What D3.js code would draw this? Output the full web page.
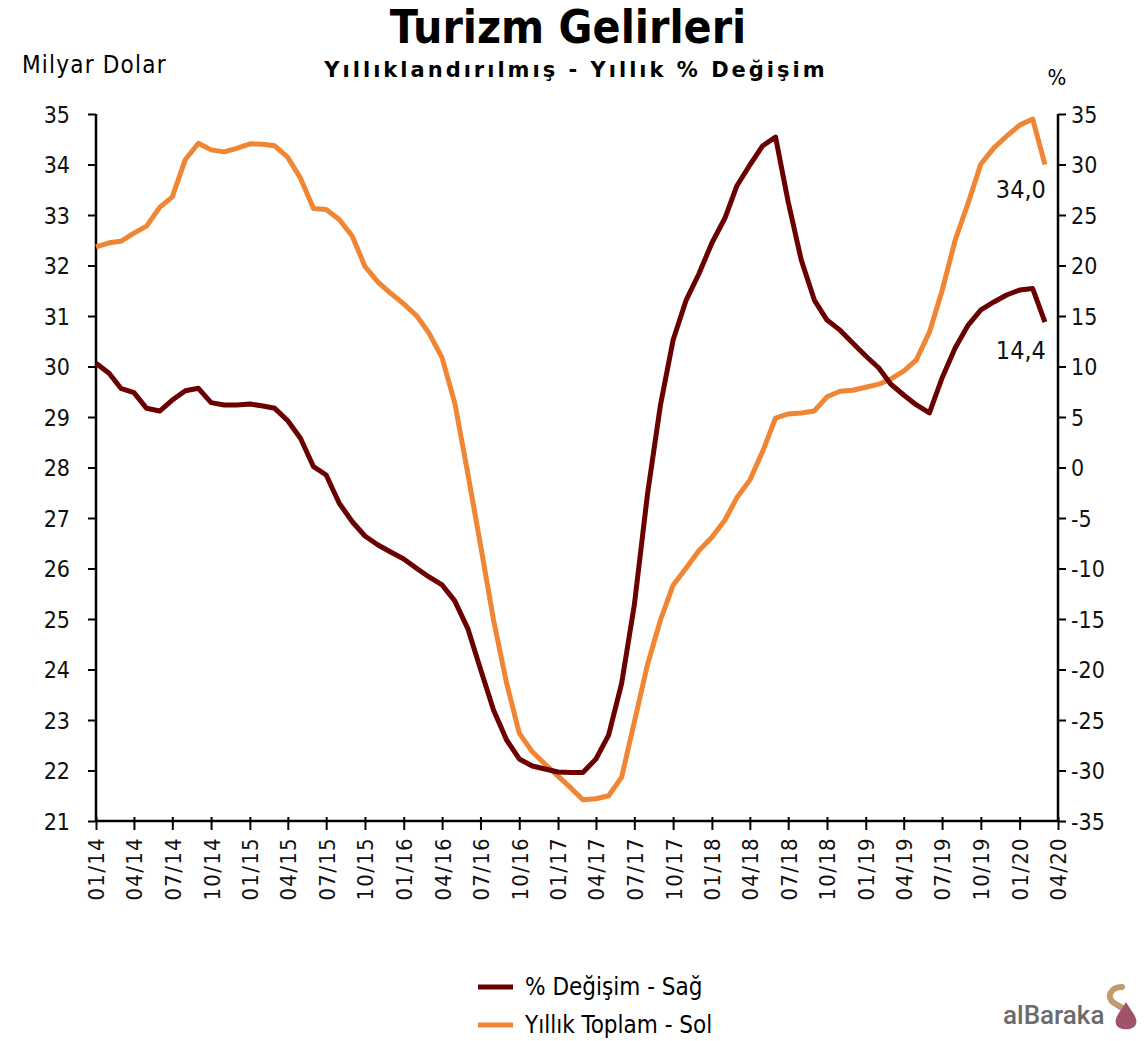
<!DOCTYPE html>
<html><head><meta charset="utf-8">
<script src="https://cdn.jsdelivr.net/npm/d3@7"></script>
<style>
html,body{margin:0;padding:0;background:#fff;}
svg{display:block;font-family:"DejaVu Sans Condensed","DejaVu Sans",sans-serif;}
</style></head>
<body>
<script>
// Categories: monthly, 01/2014 .. 03/2020
const startMonth = new Date(2014, 0, 1);
const endMonth = new Date(2020, 2, 1);
const months = d3.timeMonth.range(startMonth, d3.timeMonth.offset(endMonth, 1));

// Yıllık Toplam (milyar $) - left axis
const yillikToplam = [
 32.37,32.45,32.48,32.64,32.78,33.15,33.36,34.10,34.42,34.29,34.25,34.32,
 34.41,34.40,34.37,34.14,33.73,33.13,33.11,32.91,32.58,31.98,31.67,31.45,
 31.24,31.00,30.66,30.17,29.28,27.88,26.47,24.98,23.73,22.74,22.37,22.13,
 21.89,21.65,21.42,21.44,21.50,21.87,22.96,24.09,24.98,25.67,26.01,26.35,
 26.62,26.96,27.40,27.75,28.31,28.98,29.06,29.08,29.12,29.40,29.51,29.53,
 29.59,29.65,29.75,29.91,30.13,30.68,31.50,32.50,33.24,34.01,34.33,34.56,
 34.78,34.90,34.00
];
// % Değişim - right axis
const yuzdeDegisim = [
 10.32,9.33,7.84,7.41,5.86,5.59,6.68,7.60,7.84,6.42,6.19,6.19,
 6.29,6.09,5.86,4.63,2.89,0.08,-0.74,-3.54,-5.37,-6.78,-7.67,-8.37,
 -9.06,-10.00,-10.84,-11.63,-13.20,-15.95,-19.95,-24.00,-26.98,-28.86,-29.55,-29.85,
 -30.15,-30.20,-30.20,-28.86,-26.49,-21.34,-13.61,-2.72,6.19,12.62,16.58,19.16,
 22.23,24.70,27.87,29.95,31.83,32.72,26.29,20.54,16.58,14.60,13.60,12.33,
 11.04,9.85,8.27,7.18,6.19,5.40,8.86,11.83,14.10,15.60,16.39,17.08,
 17.57,17.72,14.40
];
const leftTicks = [21,22,23,24,25,26,27,28,29,30,31,32,33,34,35];
const rightTicks = [-35,-30,-25,-20,-15,-10,-5,0,5,10,15,20,25,30,35];
const xTickLabels = ["01/14","04/14","07/14","10/14","01/15","04/15","07/15","10/15","01/16","04/16","07/16","10/16","01/17","04/17","07/17","10/17","01/18","04/18","07/18","10/18","01/19","04/19","07/19","10/19","01/20","04/20"];
const lastLabels = ["34,0","14,4"];
const legendLabels = ["% Değişim - Sağ","Yıllık Toplam - Sol"];

const W = 1148, H = 1041;
const L = 96, R = 1058, T = 114, B = 821;
const cRed = "#6a0000", cOrange = "#f08534";
const FONT = '"DejaVu Sans Condensed","DejaVu Sans",sans-serif';

const svg = d3.select("body").append("svg").attr("width", W).attr("height", H);

const x = d3.scaleTime().domain([startMonth, new Date(2020, 3, 1)]).range([L, R]);
const yL = d3.scaleLinear().domain([21, 35]).range([B, T]);
const yR = d3.scaleLinear().domain([-35, 35]).range([B, T]);
const parseTick = d3.timeParse("%m/%y");

// Axes
const gL = svg.append("g").attr("transform", `translate(${L},0)`)
  .call(d3.axisLeft(yL).tickValues(leftTicks).tickSize(8).tickFormat(d => String(d)));
const gR = svg.append("g").attr("transform", `translate(${R},0)`)
  .call(d3.axisRight(yR).tickValues(rightTicks).tickSize(8).tickFormat(d => String(d)));
const gX = svg.append("g").attr("transform", `translate(0,${B})`)
  .call(d3.axisBottom(x).tickValues(xTickLabels.map(parseTick)).tickSize(9).tickFormat(d3.timeFormat("%m/%y")));

[gL, gR, gX].forEach(g => {
  g.select(".domain").attr("stroke", "#000").attr("stroke-width", 2.5);
  g.selectAll(".tick line").attr("stroke", "#000").attr("stroke-width", 2);
  g.selectAll(".tick text").attr("fill", "#111").style("font-size", "23px").style("font-family", FONT);
});
gL.select(".domain").attr("d", `M0,${B}V${T}`);
gR.select(".domain").attr("d", `M0,${B}V${T}`);
gX.select(".domain").attr("d", `M${L},0H${R}`);
gX.selectAll(".tick line").attr("y1", -4).attr("y2", 9);
gL.selectAll(".tick text").attr("x", -26).attr("dy", "0.36em");
gR.selectAll(".tick text").attr("x", 13).attr("dy", "0.36em");
gX.selectAll(".tick text")
  .style("font-size", "22px").style("letter-spacing", "1.3px")
  .attr("transform", "rotate(-90)")
  .attr("text-anchor", "end")
  .attr("x", -16).attr("y", 0).attr("dy", "0.36em");

// Lines
const lineL = d3.line().x((d, i) => x(months[i])).y(d => yL(d));
const lineR = d3.line().x((d, i) => x(months[i])).y(d => yR(d));
svg.append("path").datum(yillikToplam).attr("d", lineL)
  .attr("fill", "none").attr("stroke", cOrange).attr("stroke-width", 5).attr("stroke-linejoin", "round");
svg.append("path").datum(yuzdeDegisim).attr("d", lineR)
  .attr("fill", "none").attr("stroke", cRed).attr("stroke-width", 5).attr("stroke-linejoin", "round");

// End labels
const n = months.length - 1;
svg.append("text").attr("x", x(months[n]) + 1).attr("y", yL(yillikToplam[n]) + 33)
  .attr("text-anchor", "end").style("font-size", "25px").attr("fill", "#111").text(lastLabels[0]);
svg.append("text").attr("x", x(months[n]) + 1).attr("y", yR(yuzdeDegisim[n]) + 37)
  .attr("text-anchor", "end").style("font-size", "25px").attr("fill", "#111").text(lastLabels[1]);

// Titles
svg.append("text").attr("x", 568).attr("y", 43).attr("text-anchor", "middle")
  .style("font-size", "46px").style("font-weight", "bold").attr("fill", "#000").text("Turizm Gelirleri");
svg.append("text").attr("x", 576).attr("y", 77).attr("text-anchor", "middle")
  .style("font-size", "21px").style("font-weight", "bold").style("letter-spacing", "3px")
  .style("font-family", '"DejaVu Sans",sans-serif')
  .attr("fill", "#000").text("Yıllıklandırılmış - Yıllık % Değişim");
svg.append("text").attr("x", 22).attr("y", 73).style("font-size", "24px").style("letter-spacing", "1.2px")
  .attr("fill", "#000").text("Milyar Dolar");
svg.append("text").attr("x", 1057).attr("y", 85).attr("text-anchor", "middle").style("font-size", "22px").attr("fill", "#000").text("%");

// Legend
const lg = svg.append("g");
[[cRed, 987], [cOrange, 1025]].forEach(([c, yy], i) => {
  lg.append("line").attr("x1", 478).attr("x2", 513).attr("y1", yy).attr("y2", yy)
    .attr("stroke", c).attr("stroke-width", 5);
  lg.append("text").attr("x", 525).attr("y", yy + 8).style("font-size", "24px").attr("fill", "#000").text(legendLabels[i]);
});

// Logo
svg.append("text").attr("x", 1003).attr("y", 1024).style("font-size", "26px").style("font-weight", "500")
  .style("font-family", "Roboto, sans-serif").attr("fill", "#6b6b6b").text("alBaraka");
svg.append("path").attr("d", "M1122,987 C1110,987 1106,998 1114,1003 C1122,1008 1130,1011 1131,1020")
  .attr("fill", "none").attr("stroke", "#c39a6e").attr("stroke-width", 6).attr("stroke-linecap", "round");
svg.append("path").attr("d", "M1126,1002 C1120,1012 1114,1018 1116,1024 C1118,1031 1134,1031 1136,1024 C1138,1018 1132,1012 1126,1002 Z")
  .attr("fill", "#a0526a");
</script>
</body></html>
